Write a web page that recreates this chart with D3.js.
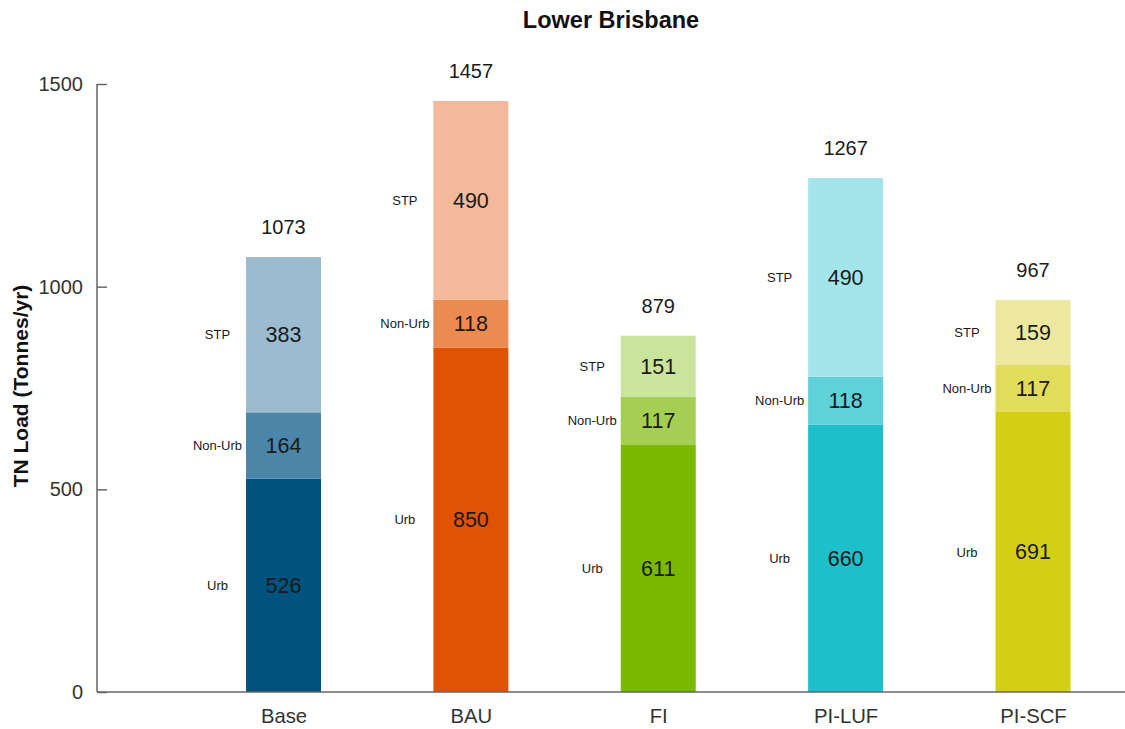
<!DOCTYPE html>
<html><head><meta charset="utf-8">
<script src="https://cdn.jsdelivr.net/npm/d3@7"></script>
<style>body{margin:0;background:#fff;font-family:"Liberation Sans",Arial,sans-serif}</style>
</head><body>
<svg id="c" width="1125" height="729"></svg>
<script>
const categories = ["Base","BAU","FI","PI-LUF","PI-SCF"];
const segments = ["Urb","Non-Urb","STP"];
const urb = [526, 850, 611, 660, 691];
const nonUrb = [164, 118, 117, 118, 117];
const stp = [383, 490, 151, 490, 159];
const totals = [1073, 1457, 879, 1267, 967];
const yTicks = [0, 500, 1000, 1500];
const colors = [
  ["#02527e","#4b86a9","#9bbccf"],
  ["#e05305","#eb8a51","#f3b99a"],
  ["#7bb800","#a4cf52","#cbe49b"],
  ["#1dbfca","#5fd1d9","#a3e5ea"],
  ["#d4cf12","#e1dc5a","#ece89f"]
];

const svg = d3.select("#c");
const x = d3.scalePoint().domain(categories).range([283.5, 1033]);
const y = d3.scaleLinear().domain([0,1500]).range([692, 84]);
const bw = 75;

const data = categories.map((c,i)=>({cat:c, vals:[urb[i], nonUrb[i], stp[i]], total: totals[i], cols: colors[i]}));

data.forEach(d=>{
  let cum = 0;
  d.vals.forEach((v,j)=>{
    const y0 = cum, y1 = cum + v; cum = y1;
    svg.append("rect").attr("x", x(d.cat)-bw/2).attr("width", bw)
      .attr("y", y(y1)).attr("height", y(y0)-y(y1)).attr("fill", d.cols[j]);
    const ym = y((y0+y1)/2);
    svg.append("text").attr("x", x(d.cat)).attr("y", ym).attr("dy","0.35em")
      .attr("text-anchor","middle").attr("font-size", 21.5).attr("fill","#1a1a1a").text(v);
    svg.append("text").attr("x", x(d.cat)-66).attr("y", ym).attr("dy","0.35em")
      .attr("text-anchor","middle").attr("font-size", 13).attr("fill","#1a1a1a").text(segments[j]);
  });
  svg.append("text").attr("x", x(d.cat)).attr("y", y(cum)-30).attr("dy","0.35em")
    .attr("text-anchor","middle").attr("font-size", 20).attr("fill","#1a1a1a").text(d.total);
});

// axes
const yAxis = svg.append("g").attr("transform","translate(97,0)")
  .call(d3.axisRight(y).tickValues(yTicks).tickSize(10).tickFormat(d3.format("d")));
yAxis.select(".domain").attr("stroke","#666").attr("stroke-width",1.5).attr("d","M0,84V692");
yAxis.selectAll(".tick line").attr("stroke","#666").attr("stroke-width",1.5);
yAxis.selectAll(".tick text").attr("x",-14).attr("text-anchor","end")
  .attr("font-size",20).attr("fill","#333").attr("font-family","Liberation Sans, Arial, sans-serif");

const xAxis = svg.append("g").attr("transform","translate(0,692)")
  .call(d3.axisBottom(x).tickSize(0).tickPadding(17));
xAxis.select(".domain").attr("stroke","#666").attr("stroke-width",1.5).attr("d","M97,0H1125");
xAxis.selectAll(".tick text").attr("font-size",20.3).attr("fill","#333")
  .attr("font-family","Liberation Sans, Arial, sans-serif");

svg.append("text").attr("x",611).attr("y",20).attr("dy","0.35em").attr("text-anchor","middle")
  .attr("font-size",23.5).attr("font-weight","bold").attr("fill","#111").text("Lower Brisbane");
svg.append("text").attr("transform","translate(21,386) rotate(-90)").attr("dy","0.35em")
  .attr("text-anchor","middle").attr("font-size",21).attr("font-weight","bold").attr("fill","#111")
  .text("TN Load (Tonnes/yr)");
</script>
</body></html>
